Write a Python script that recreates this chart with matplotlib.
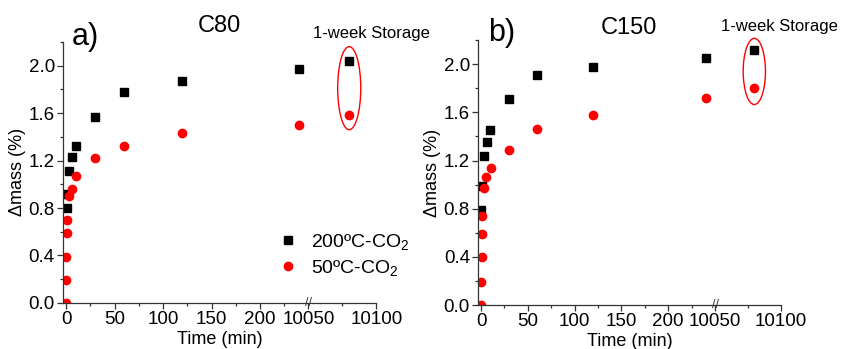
import numpy as np
import matplotlib.pyplot as plt
from matplotlib.patches import Ellipse
from matplotlib.ticker import FixedLocator, FixedFormatter
import matplotlib.transforms as mtransforms

plt.rcParams['font.family'] = ['Liberation Sans', 'DejaVu Sans']
plt.rcParams['mathtext.fontset'] = 'custom'
plt.rcParams['mathtext.rm'] = 'Liberation Sans'
plt.rcParams['mathtext.default'] = 'regular'

# C80 panel
t_c80_200 = [0.5, 1, 3, 6, 10, 30, 60, 120, 240, 10080]
m_c80_200 = [0.80, 0.92, 1.11, 1.23, 1.32, 1.57, 1.78, 1.87, 1.97, 2.04]
t_c80_50 = [0, 0.2, 0.4, 0.6, 0.8, 3, 6, 10, 30, 60, 120, 240, 10080]
m_c80_50 = [0.0, 0.19, 0.39, 0.59, 0.70, 0.90, 0.96, 1.07, 1.22, 1.32, 1.43, 1.50, 1.58]

# C150 panel
t_c150_200 = [0.2, 0.6, 3, 6, 10, 30, 60, 120, 240, 10080]
m_c150_200 = [0.79, 0.99, 1.24, 1.35, 1.45, 1.71, 1.91, 1.98, 2.05, 2.12]
t_c150_50 = [0, 0.3, 0.6, 0.9, 1.2, 3, 5.5, 11, 30, 60, 120, 240, 10080]
m_c150_50 = [0.0, 0.19, 0.40, 0.59, 0.74, 0.97, 1.06, 1.14, 1.29, 1.46, 1.58, 1.72, 1.80]

week_time = 10080

x_major = [0, 50, 100, 150, 200, 10050, 10100]
x_minor = [25, 75, 125, 175, 225, 10075]
y_major = [0.0, 0.4, 0.8, 1.2, 1.6, 2.0]
y_minor = [0.2, 0.6, 1.0, 1.4, 1.8, 2.2]

# broken x axis: 0-250 then 10050-10100 (stretched)
BRK_L, BRK_R, K = 250, 10050, 1.4


def fwd(x):
    x = np.asarray(x, dtype=float)
    return np.where(x <= BRK_L, x, np.where(x >= BRK_R, BRK_L + (x - BRK_R) * K, BRK_L))


def inv(y):
    y = np.asarray(y, dtype=float)
    return np.where(y <= BRK_L, y, BRK_R + (y - BRK_L) / K)


fig = plt.figure(figsize=(8.42, 3.49), dpi=100)

panels = [
    dict(rect=[0.075, 0.132, 0.372, 0.748], t1=t_c80_200, m1=m_c80_200, t2=t_c80_50, m2=m_c80_50,
         letter='a)', name='C80', ell=(1.81, 0.70), legend=True,
         letter_pos=(0.07, 1.02), name_pos=(0.50, 1.06), week_pos=(0.985, 1.034)),
    dict(rect=[0.568, 0.126, 0.359, 0.759], t1=t_c150_200, m1=m_c150_200, t2=t_c150_50, m2=m_c150_50,
         letter='b)', name='C150', ell=(1.94, 0.55), legend=False,
         letter_pos=(0.078, 1.026), name_pos=(0.50, 1.045), week_pos=(0.997, 1.05)),
]

for p in panels:
    ax = fig.add_axes(p['rect'])
    ax.set_xscale('function', functions=(fwd, inv))
    l1, = ax.plot(p['t1'], p['m1'], 's', color='black', ms=5.5, ls='none', label='200ºC-CO$_2$')
    l2, = ax.plot(p['t2'], p['m2'], 'o', color='#ff0000', ms=6, ls='none', label='50ºC-CO$_2$')

    ax.set_xlim(-3, 10100)
    ax.set_ylim(0, 2.2)
    ax.xaxis.set_major_locator(FixedLocator(x_major))
    ax.xaxis.set_major_formatter(FixedFormatter([str(v) for v in x_major]))
    ax.xaxis.set_minor_locator(FixedLocator(x_minor))
    ax.yaxis.set_major_locator(FixedLocator(y_major))
    ax.yaxis.set_major_formatter(FixedFormatter([f'{v:.1f}' for v in y_major]))
    ax.yaxis.set_minor_locator(FixedLocator(y_minor))

    for s in ['top', 'right']:
        ax.spines[s].set_visible(False)
    for s in ['left', 'bottom']:
        ax.spines[s].set_color('#333333')
        ax.spines[s].set_linewidth(0.9)
    ax.tick_params(which='major', direction='out', length=4, width=0.9, labelsize=13.5, pad=2, color='#333333')
    ax.tick_params(which='minor', direction='out', length=2, width=0.9, color='#333333')

    ax.set_xlabel('Time (min)', fontsize=13, labelpad=2)
    ax.set_ylabel('Δmass (%)', fontsize=13, labelpad=2)

    # break marker
    trans = mtransforms.blended_transform_factory(ax.transData, ax.transAxes)
    ax.text(BRK_R, 0, '//', transform=trans, ha='center', va='center', fontsize=9, color='#333333')

    # highlight 1-week storage points
    ax.add_patch(Ellipse((week_time, p['ell'][0]), width=17, height=p['ell'][1],
                         fill=False, ec='red', lw=1, clip_on=False))

    ax.text(*p['letter_pos'], p['letter'], transform=ax.transAxes, fontsize=22, ha='center', va='center')
    ax.text(*p['name_pos'], p['name'], transform=ax.transAxes, fontsize=17, ha='center', va='center')
    ax.text(*p['week_pos'], '1-week Storage', transform=ax.transAxes, fontsize=12, ha='center', va='center')

    if p['legend']:
        ax.legend(handles=[l1, l2], loc='lower left', bbox_to_anchor=(0.63, 0.03), frameon=False,
                  fontsize=14, handlelength=1.0, handletextpad=0.7, labelspacing=0.3)

fig.savefig('out.png', dpi=100)
